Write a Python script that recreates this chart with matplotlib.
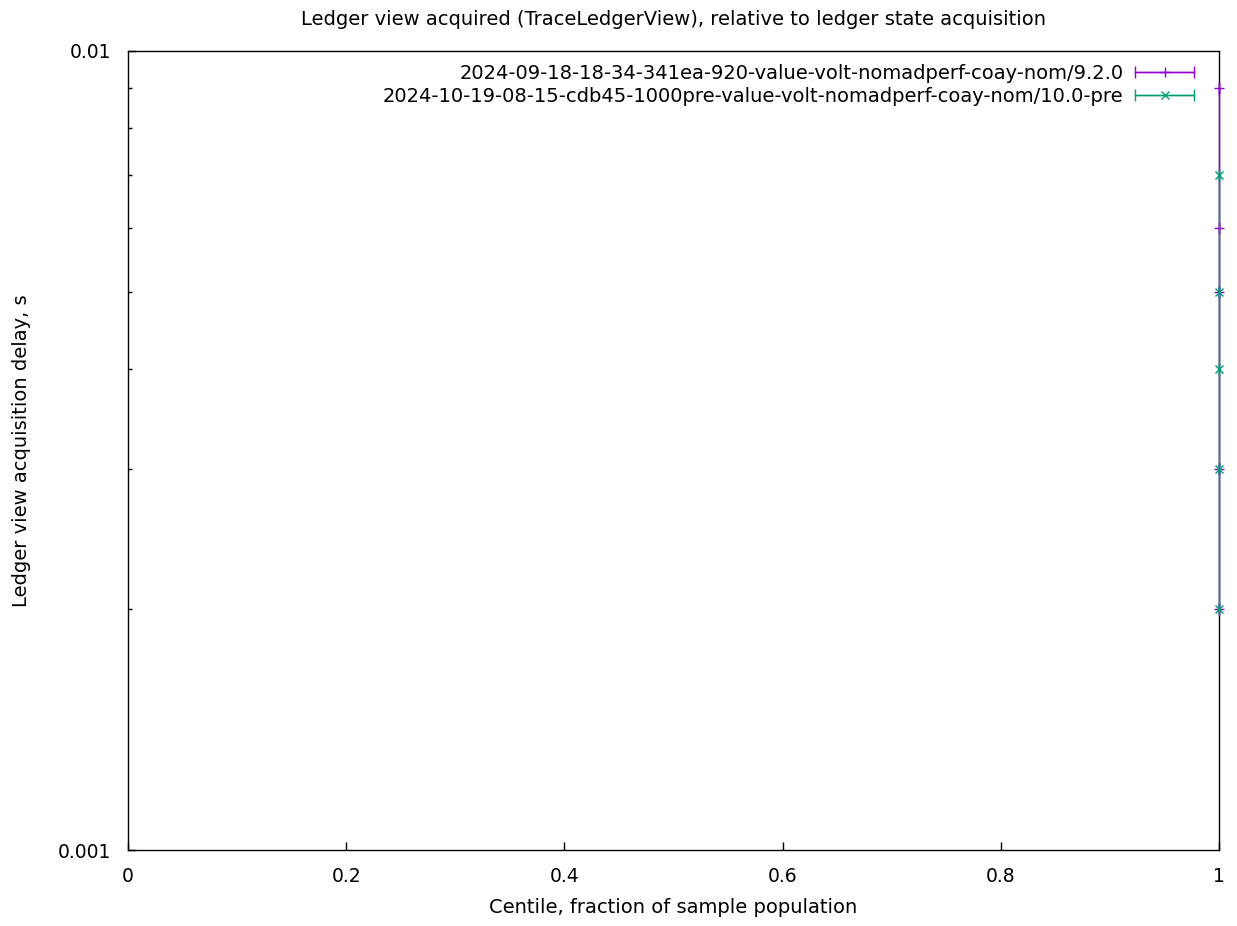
"""
Ledger view acquired (TraceLedgerView) — recreate gnuplot style centile chart.
"""

import matplotlib
matplotlib.use('Agg')
import matplotlib.pyplot as plt
from matplotlib.container import ErrorbarContainer
from matplotlib.legend_handler import HandlerErrorbar
from matplotlib.ticker import FixedLocator, LogLocator, NullFormatter

RUN_A = '2024-09-18-18-34-341ea-920-value-volt-nomadperf-coay-nom/9.2.0'
RUN_B = '2024-10-19-08-15-cdb45-1000pre-value-volt-nomadperf-coay-nom/10.0-pre'

# centile (x) vs delay in seconds (y) -- only the tail is visible in the 1ms..10ms window
cent_a  = [1.0, 1.0, 1.0, 1.0, 1.0]
delay_a = [0.002, 0.003, 0.005, 0.006, 0.009]
cent_b  = [1.0, 1.0, 1.0, 1.0, 1.0]
delay_b = [0.002, 0.003, 0.004, 0.005, 0.007]

COL_A = '#9400d3'
COL_B = '#009e73'
FS = 14

W, H = 1237, 926
fig = plt.figure(figsize=(W / 100, H / 100), dpi=100)
ax = fig.add_axes([128 / W, 1 - 850 / H, (1219 - 128) / W, (850 - 51) / H])

ax.errorbar(cent_a, delay_a, xerr=[0] * len(cent_a), color=COL_A, marker='+',
            markersize=7, linewidth=1, capsize=4, elinewidth=1, clip_on=False,
            label=RUN_A, zorder=3)
ax.errorbar(cent_b, delay_b, xerr=[0] * len(cent_b), color=COL_B, marker='x',
            markersize=6, linewidth=1, capsize=4, elinewidth=1, clip_on=False,
            label=RUN_B, zorder=4)

ax.set_yscale('log')
ax.set_xlim(0, 1)
ax.set_ylim(0.001, 0.01)

ax.xaxis.set_major_locator(FixedLocator([0, 0.2, 0.4, 0.6, 0.8, 1.0]))
ax.set_xticklabels(['0', '0.2', '0.4', '0.6', '0.8', '1'])
ax.yaxis.set_major_locator(FixedLocator([0.001, 0.01]))
ax.set_yticklabels(['0.001', '0.01'])
ax.yaxis.set_minor_locator(LogLocator(base=10, subs=range(2, 10)))
ax.yaxis.set_minor_formatter(NullFormatter())

ax.tick_params(which='major', direction='in', length=6, width=1, labelsize=13.5,
               top=False, right=False, colors='black')
ax.tick_params(axis='x', which='major', pad=12)
ax.tick_params(axis='y', which='major', pad=12)
ax.tick_params(which='minor', direction='in', length=3, width=1, top=False, right=False)
for s in ax.spines.values():
    s.set_linewidth(1)

ax.set_xlabel('Centile, fraction of sample population', fontsize=FS)
ax.xaxis.set_label_coords(0.5, (850 - 898) / 799)
ax.set_ylabel('Ledger view acquisition delay, s', fontsize=FS)
ax.yaxis.set_label_coords((31 - 128) / 1091, 0.5)
# gnuplot centres the title over the plot area, not the canvas
ax.set_title('Ledger view acquired (TraceLedgerView), relative to ledger state acquisition',
             fontsize=FS, pad=19)

leg = ax.legend(loc='upper right', bbox_to_anchor=(1204 / W, 1 - 54 / H),
                bbox_transform=fig.transFigure, frameon=False, fontsize=FS,
                handlelength=3.05, handletextpad=0.6, labelspacing=0.2,
                borderpad=0, markerfirst=False,
                handler_map={ErrorbarContainer: HandlerErrorbar(xerr_size=1.5)})

fig.savefig('out.png', dpi=100)
